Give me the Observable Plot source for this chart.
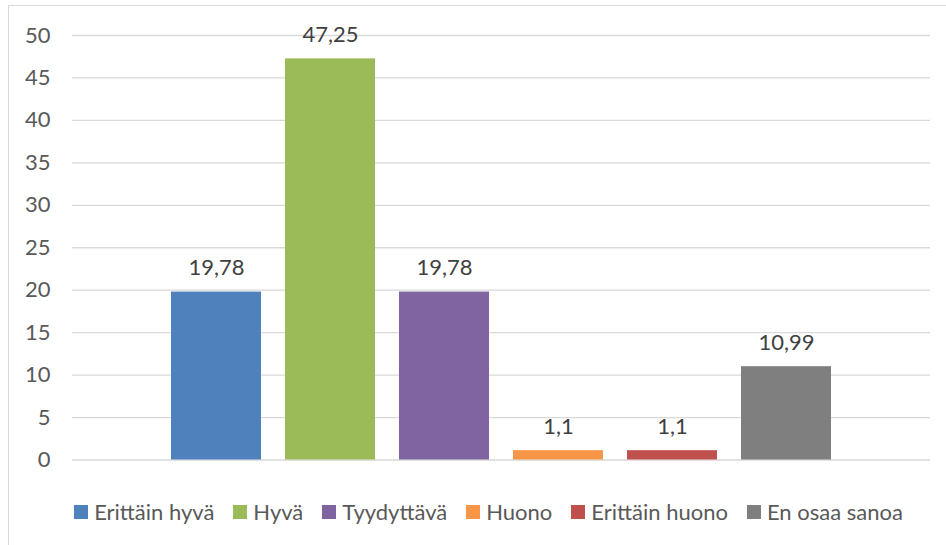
<!DOCTYPE html>
<html>
<head>
<meta charset="utf-8">
<script src="https://cdn.jsdelivr.net/npm/d3@7"></script>
<script src="https://cdn.jsdelivr.net/npm/@observablehq/plot@0.6"></script>
<style>
  html, body { margin: 0; padding: 0; background: #fff; }
  #wrap { position: relative; width: 946px; height: 545px; overflow: hidden; font-family: Lato, "Liberation Sans", sans-serif; }
  #frame { position: absolute; left: 8px; top: 5px; width: 960px; height: 560px; border: 1px solid #d9d9d9; box-sizing: border-box; }
  #chart { position: absolute; left: 0; top: 0; }
  #legend { position: absolute; left: 0; width: 946px; top: 498px; display: flex; justify-content: center; align-items: center; gap: 19px; font-size: 22px; color: #595959; padding-left: 31px; box-sizing: border-box; }
  .item { display: flex; align-items: center; white-space: nowrap; }
  .sw { width: 14px; height: 14px; margin-right: 6px; display: inline-block; }
</style>
</head>
<body>
<div id="wrap">
  <div id="frame"></div>
  <div id="chart"></div>
  <div id="legend"></div>
</div>
<script>
const categories = ["Erittäin hyvä", "Hyvä", "Tyydyttävä", "Huono", "Erittäin huono", "En osaa sanoa"];
const values = [19.78, 47.25, 19.78, 1.1, 1.1, 10.99];
const colors = ["#4f81bd", "#9bbb59", "#8064a2", "#f79646", "#c0504d", "#7f7f7f"];
const yTicks = [0, 5, 10, 15, 20, 25, 30, 35, 40, 45, 50];

const data = categories.map((c, i) => ({category: c, value: values[i]}));
const fmt = v => String(v).replace(".", ",");

const chart = Plot.plot({
  width: 946,
  height: 480,
  marginTop: 35,
  marginBottom: 20.5,
  marginLeft: 72,
  marginRight: 16,
  style: {fontFamily: "Lato, 'Liberation Sans', sans-serif", fontSize: "22px", color: "#595959", background: "transparent"},
  x: {domain: categories, paddingInner: 24 / 114, paddingOuter: 0.868, axis: null},
  y: {domain: [0, 50], ticks: yTicks},
  color: {domain: categories, range: colors},
  marks: [
    Plot.gridY(yTicks, {stroke: "#d9d9d9", strokeOpacity: 1, strokeWidth: 1.3}),
    Plot.axisY(yTicks, {tickSize: 0, tickPadding: 22, fontSize: 22, fill: "#595959", label: null}),
    Plot.barY(data, {x: "category", y: "value", fill: "category"}),
    Plot.text(data, {x: "category", y: "value", text: d => fmt(d.value), lineAnchor: "bottom", dy: -17, fontSize: 22, fill: "#404040"})
  ]
});
document.getElementById("chart").appendChild(chart);

const legend = document.getElementById("legend");
categories.forEach((c, i) => {
  const item = document.createElement("div");
  item.className = "item";
  const sw = document.createElement("span");
  sw.className = "sw";
  sw.style.background = colors[i];
  const t = document.createElement("span");
  t.textContent = c;
  item.appendChild(sw);
  item.appendChild(t);
  legend.appendChild(item);
});
</script>
</body>
</html>
